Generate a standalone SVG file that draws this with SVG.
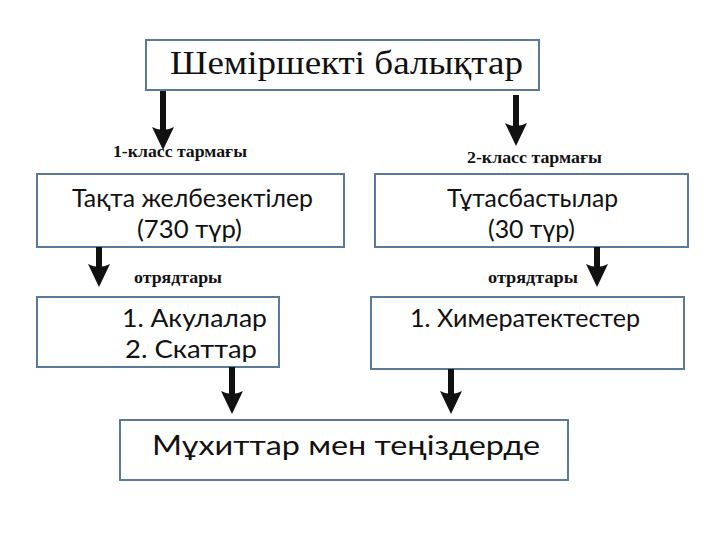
<svg xmlns="http://www.w3.org/2000/svg" width="720" height="540" viewBox="0 0 720 540">
<style>
.box{fill:#fff;stroke:#5b7a99;stroke-width:2}
.serif{font-family:"Liberation Serif","Times New Roman",serif;fill:#111}
.sans{font-family:Lato,"Open Sans","Liberation Sans",sans-serif;fill:#111}
.lbl{font-family:"Liberation Serif","Times New Roman",serif;font-weight:bold;font-size:17px;fill:#111}
.shaft{stroke:#111;stroke-width:6}
.head{fill:#111}
</style>
<defs>
<path id="ah" d="M-11,-23 Q0,-17 11,-23 L0,0 Z"/>
</defs>
<rect width="720" height="540" fill="#fff"/>
<g id="n1"><rect class="box" x="146" y="40" width="393" height="50"/><text class="serif" x="170" y="74" font-size="33" textLength="353" lengthAdjust="spacingAndGlyphs">Шеміршекті балықтар</text></g>
<g id="n2"><rect class="box" x="37" y="174" width="307" height="73"/><text class="sans" x="72" y="207" font-size="25" textLength="241" lengthAdjust="spacingAndGlyphs">Тақта желбезектілер</text><text class="sans" x="137" y="238" font-size="25" textLength="105" lengthAdjust="spacingAndGlyphs">(730 түр)</text></g>
<g id="n3"><rect class="box" x="375" y="174" width="313" height="73"/><text class="sans" x="447" y="207" font-size="25" textLength="171" lengthAdjust="spacingAndGlyphs">Тұтасбастылар</text><text class="sans" x="488" y="238" font-size="25" textLength="87" lengthAdjust="spacingAndGlyphs">(30 түр)</text></g>
<g id="n4"><rect class="box" x="37" y="297" width="242" height="70"/><text class="sans" x="122" y="327" font-size="25" textLength="145" lengthAdjust="spacingAndGlyphs">1.  Акулалар</text><text class="sans" x="125" y="358" font-size="25" textLength="132" lengthAdjust="spacingAndGlyphs">2.  Скаттар</text></g>
<g id="n5"><rect class="box" x="371" y="297" width="313" height="72"/><text class="sans" x="410" y="327" font-size="25" textLength="230" lengthAdjust="spacingAndGlyphs">1. Химератектестер</text></g>
<g id="n6"><rect class="box" x="120" y="420" width="448" height="60"/><text class="sans" x="152" y="455" font-size="27" textLength="388" lengthAdjust="spacingAndGlyphs">Мұхиттар мен теңіздерде</text></g>
<g id="labels">
<text class="lbl" x="113" y="157" textLength="134" lengthAdjust="spacingAndGlyphs">1-класс тармағы</text>
<text class="lbl" x="467" y="163" textLength="135" lengthAdjust="spacingAndGlyphs">2-класс тармағы</text>
<text class="lbl" x="134" y="283" textLength="88" lengthAdjust="spacingAndGlyphs">отрядтары</text>
<text class="lbl" x="488" y="283" textLength="90" lengthAdjust="spacingAndGlyphs">отрядтары</text>
</g>
<g id="connectors">
<line class="shaft" x1="163" y1="91" x2="163" y2="132"/><use href="#ah" class="head" x="163" y="150"/>
<line class="shaft" x1="516" y1="95" x2="516" y2="128"/><use href="#ah" class="head" x="516" y="146"/>
<line class="shaft" x1="99" y1="247" x2="99" y2="269"/><use href="#ah" class="head" x="99" y="287"/>
<line class="shaft" x1="597" y1="247" x2="597" y2="269"/><use href="#ah" class="head" x="597" y="287"/>
<line class="shaft" x1="232" y1="367" x2="232" y2="396"/><use href="#ah" class="head" x="232" y="414"/>
<line class="shaft" x1="451" y1="369" x2="451" y2="396"/><use href="#ah" class="head" x="451" y="414"/>
</g>
</svg>
